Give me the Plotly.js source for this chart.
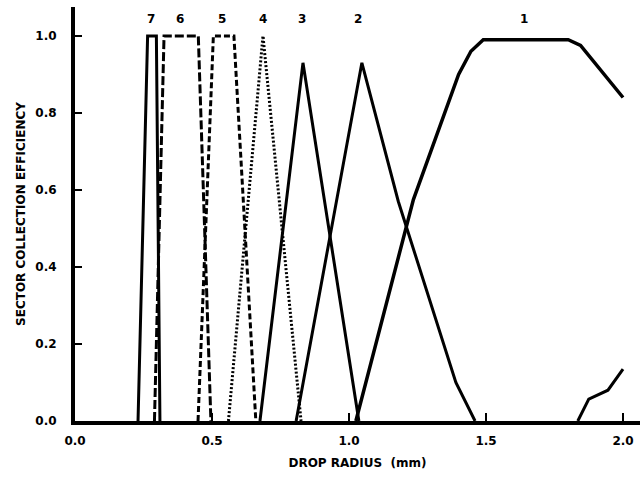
<!DOCTYPE html>
<html>
<head>
<meta charset="utf-8">
<script src="https://cdn.plot.ly/plotly-3.0.1.min.js"></script>
<style>html,body{margin:0;padding:0;background:#fff;}#chart{width:640px;height:481px;}</style>
</head>
<body>
<div id="chart"></div>
<script>
// Data
const sector7X = [0.23, 0.265, 0.297, 0.31];
const sector7Y = [0.0, 1.0, 1.0, 0.0];
const sector6X = [0.29, 0.325, 0.45, 0.496];
const sector6Y = [0.0, 1.0, 1.0, 0.0];
const sector5X = [0.449, 0.505, 0.58, 0.66];
const sector5Y = [0.0, 1.0, 1.0, 0.0];
const sector4X = [0.56, 0.686, 0.825];
const sector4Y = [0.0, 1.0, 0.0];
const sector3X = [0.675, 0.832, 1.036];
const sector3Y = [0.0, 0.93, 0.0];
const sector2X = [0.807, 1.047, 1.18, 1.39, 1.46];
const sector2Y = [0.0, 0.93, 0.57, 0.10, 0.0];
const sector1X = [1.025, 1.235, 1.40, 1.445, 1.49, 1.80, 1.845, 2.0];
const sector1Y = [0.0, 0.575, 0.90, 0.96, 0.99, 0.99, 0.975, 0.84];
const tailX = [1.835, 1.875, 1.945, 2.0];
const tailY = [0.0, 0.057, 0.08, 0.135];
const curveLabels = ['7', '6', '5', '4', '3', '2', '1'];
const curveLabelX = [0.277, 0.383, 0.537, 0.686, 0.828, 1.033, 1.64];
const xTickVals = [0, 0.5, 1.0, 1.5, 2.0];
const yTickVals = [0, 0.2, 0.4, 0.6, 0.8, 1.0];

const FONT = 'DejaVu Sans, Liberation Sans, Arial, sans-serif';
function tr(x, y, dash, w) {
  return {x: x, y: y, mode: 'lines', type: 'scatter', hoverinfo: 'skip',
          line: {color: '#000', width: w || 3, dash: dash || 'solid'}, showlegend: false};
}
const data = [
  tr(sector7X, sector7Y, 'solid', 3),
  tr(sector6X, sector6Y, '9px,3px', 3),
  tr(sector5X, sector5Y, '6px,3px', 3),
  tr(sector4X, sector4Y, '2px,2px', 3),
  tr(sector3X, sector3Y, 'solid', 3),
  tr(sector2X, sector2Y, 'solid', 3),
  tr(sector1X, sector1Y, 'solid', 3.5),
  tr(tailX, tailY, 'solid', 3)
];

const annotations = curveLabels.map((t, i) => ({
  x: curveLabelX[i], y: 1.045, xref: 'x', yref: 'y', text: '<b>' + t + '</b>',
  showarrow: false, font: {family: FONT, size: 12, color: '#000'}
}));

const layout = {
  width: 640, height: 481,
  margin: {l: 75, r: 0, t: 7, b: 60},
  paper_bgcolor: '#fff', plot_bgcolor: '#fff',
  xaxis: {
    range: [0, 2.062], showgrid: false, zeroline: false,
    showline: true, linecolor: '#000', linewidth: 4,
    ticks: 'inside', ticklen: 8, tickwidth: 2, tickcolor: '#000',
    tickvals: xTickVals, tickformat: '.1f', ticklabelstandoff: 6,
    tickfont: {family: FONT, size: 12, color: '#000', weight: 'bold'},
    title: {text: '<b>DROP RADIUS  (mm)</b>', font: {family: FONT, size: 12, color: '#000'}, standoff: 12}
  },
  yaxis: {
    range: [0, 1.075], showgrid: false, zeroline: false,
    showline: true, linecolor: '#000', linewidth: 4,
    ticks: 'inside', ticklen: 7, tickwidth: 2, tickcolor: '#000',
    tickvals: yTickVals, tickformat: '.1f', ticklabelstandoff: 12,
    tickfont: {family: FONT, size: 12, color: '#000', weight: 'bold'},
    title: {text: '<b>SECTOR COLLECTION EFFICIENCY</b>', font: {family: FONT, size: 12, color: '#000'}, standoff: 8}
  },
  annotations: annotations
};
Plotly.newPlot('chart', data, layout, {displayModeBar: false, staticPlot: true});
</script>
</body>
</html>
